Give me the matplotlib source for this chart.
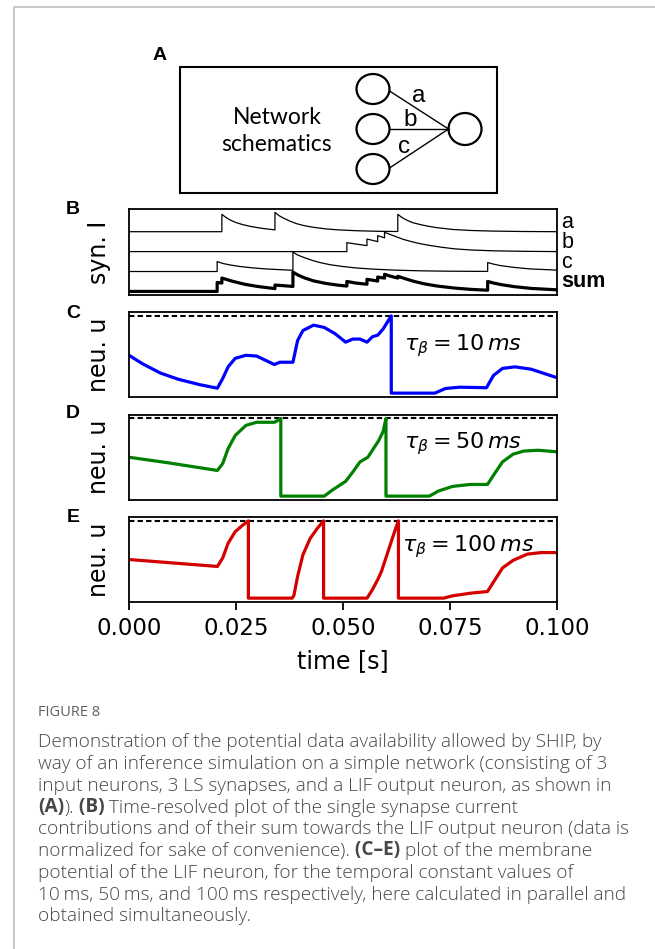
import matplotlib
matplotlib.use('Agg')
import matplotlib.pyplot as plt
from matplotlib.patches import Rectangle, Ellipse

# ---------------- data ----------------
# panel B: normalised synaptic currents (time in s)
a_t = [0, 0.0217, 0.0217, 0.0227, 0.0237, 0.0250, 0.0265, 0.0285, 0.0310, 0.0341,
       0.0341, 0.0351, 0.0362, 0.0376, 0.0392, 0.0410, 0.0431, 0.0460, 0.0490, 0.0530,
       0.0580, 0.0628, 0.0628, 0.0638, 0.0649, 0.0662, 0.0680, 0.0700, 0.0720, 0.0757,
       0.0800, 0.0850, 0.0920, 0.1000]
a_i = [0, 0, 0.87, 0.71, 0.58, 0.46, 0.36, 0.26, 0.17, 0.09,
       0.97, 0.80, 0.67, 0.53, 0.40, 0.30, 0.22, 0.14, 0.09, 0.05,
       0.02, 0.01, 0.87, 0.71, 0.58, 0.46, 0.36, 0.27, 0.20, 0.11,
       0.06, 0.03, 0.01, 0.0]

b_t = [0, 0.0509, 0.0509, 0.0530, 0.0556, 0.0556, 0.0570, 0.0581, 0.0581, 0.0590,
       0.0597, 0.0597, 0.0608, 0.0620, 0.0640, 0.0660, 0.0680, 0.0700, 0.0730, 0.0760,
       0.0800, 0.0850, 0.0920, 0.1000]
b_i = [0, 0, 0.45, 0.38, 0.30, 0.63, 0.56, 0.50, 0.80, 0.74,
       0.69, 0.97, 0.88, 0.78, 0.62, 0.50, 0.40, 0.32, 0.22, 0.14,
       0.08, 0.04, 0.015, 0.0]

c_t = [0, 0.0206, 0.0206, 0.0220, 0.0236, 0.0260, 0.0290, 0.0320, 0.0355, 0.0383,
       0.0383, 0.0394, 0.0408, 0.0420, 0.0431, 0.0446, 0.0470, 0.0500, 0.0530, 0.0570,
       0.0620, 0.0680, 0.0750, 0.0838, 0.0838, 0.0850, 0.0867, 0.0898, 0.0937, 0.1000]
c_i = [0, 0, 0.50, 0.40, 0.33, 0.25, 0.18, 0.13, 0.09, 0.06,
       0.97, 0.83, 0.71, 0.62, 0.54, 0.45, 0.34, 0.25, 0.18, 0.12,
       0.07, 0.035, 0.015, 0.005, 0.45, 0.38, 0.30, 0.21, 0.13, 0.07]

sum_t = [0, 0.0206, 0.0206, 0.0217, 0.0217, 0.0228, 0.0240, 0.0255, 0.0270, 0.0300,
         0.0341, 0.0341, 0.0360, 0.0383, 0.0383, 0.0395, 0.0410, 0.0431, 0.0460, 0.0490,
         0.0509, 0.0509, 0.0530, 0.0556, 0.0556, 0.0570, 0.0581, 0.0581, 0.0590, 0.0597,
         0.0597, 0.0610, 0.0628, 0.0628, 0.0645, 0.0665, 0.0690, 0.0720, 0.0760, 0.0800,
         0.0838, 0.0838, 0.0850, 0.0870, 0.0900, 0.0940, 0.1000]
sum_i = [0, 0, 0.45, 0.42, 0.67, 0.60, 0.52, 0.44, 0.36, 0.25,
         0.14, 0.32, 0.29, 0.25, 0.97, 0.82, 0.68, 0.53, 0.40, 0.31,
         0.27, 0.50, 0.42, 0.36, 0.61, 0.56, 0.52, 0.72, 0.69, 0.67,
         0.86, 0.77, 0.67, 0.76, 0.64, 0.51, 0.38, 0.27, 0.17, 0.10,
         0.06, 0.50, 0.43, 0.34, 0.24, 0.15, 0.08]

row_names = ['a', 'b', 'c', 'sum']

# panels C-E: membrane potential, 0 = reset, 1 = threshold
u10_t = [0, 0.00316, 0.00733, 0.01149, 0.01649, 0.02065, 0.0219, 0.02315, 0.02481, 0.02731,
         0.02981, 0.03397, 0.03522, 0.0373, 0.0383, 0.03939, 0.04063, 0.04313, 0.04563, 0.04813,
         0.05062, 0.05229, 0.05396, 0.05562, 0.05687, 0.05812, 0.05937, 0.06128, 0.06128, 0.07144,
         0.07394, 0.07727, 0.08351, 0.08518, 0.08726, 0.09018, 0.09392, 0.1]
u10 = [0.49, 0.38, 0.26, 0.18, 0.11, 0.064, 0.19, 0.34, 0.45, 0.49,
       0.48, 0.37, 0.40, 0.40, 0.40, 0.68, 0.81, 0.88, 0.85, 0.77,
       0.66, 0.70, 0.70, 0.66, 0.73, 0.75, 0.83, 1.0, 0.0, 0.0,
       0.06, 0.077, 0.07, 0.23, 0.32, 0.34, 0.31, 0.20]

u50_t = [0, 0.00899, 0.02065, 0.0219, 0.02315, 0.02481, 0.02731, 0.02981, 0.03397, 0.03497,
         0.03547, 0.03547, 0.04563, 0.0473, 0.05062, 0.05229, 0.05396, 0.0558, 0.05687, 0.05829,
         0.05937, 0.06004, 0.06004, 0.07019, 0.07227, 0.0756, 0.07977, 0.08376, 0.08518, 0.08726,
         0.08976, 0.09226, 0.09559, 0.1]
u50 = [0.50, 0.43, 0.33, 0.42, 0.61, 0.78, 0.91, 0.95, 0.95, 0.98,
       1.0, 0.0, 0.0, 0.07, 0.19, 0.31, 0.44, 0.50, 0.59, 0.71,
       0.83, 1.0, 0.0, 0.0, 0.065, 0.125, 0.15, 0.15, 0.27, 0.44,
       0.54, 0.58, 0.59, 0.57]

u100_t = [0, 0.02065, 0.0219, 0.02315, 0.02481, 0.02648, 0.02789, 0.02789, 0.03814, 0.03855,
          0.03939, 0.04063, 0.0423, 0.04396, 0.04546, 0.04546, 0.05562, 0.05687, 0.05812, 0.05895,
          0.06062, 0.06228, 0.06295, 0.06295, 0.07352, 0.0756, 0.07977, 0.08376, 0.08518, 0.08726,
          0.08976, 0.09309, 0.09642, 0.1]
u100 = [0.50, 0.41, 0.52, 0.71, 0.86, 0.94, 1.0, 0.0, 0.0, 0.04,
        0.28, 0.56, 0.77, 0.90, 1.0, 0.0, 0.0, 0.11, 0.24, 0.34,
        0.62, 0.90, 1.0, 0.0, 0.0, 0.03, 0.064, 0.086, 0.21, 0.39,
        0.49, 0.57, 0.59, 0.59]

taus = [10, 50, 100]
threshold = 1.0
xticks = [0.000, 0.025, 0.050, 0.075, 0.100]

# ---------------- figure ----------------
W, H = 655, 949
fig = plt.figure(figsize=(W / 100, H / 100), dpi=100)

# overlay in pixel coordinates for frame, schematic and caption
ov = fig.add_axes([0, 0, 1, 1], zorder=-1)
ov.set_xlim(0, W)
ov.set_ylim(H, 0)
ov.axis('off')

ov.plot([14, 14, W], [H, 7, 7], color='#c4c4c4', lw=1.3)

# panel A: network schematic
ov.add_patch(Rectangle((180, 67), 317, 126, fill=False, ec='black', lw=1.5))
ov.text(277, 131, 'Network\nschematics', ha='center', va='center', fontsize=16.5,
        family='Lato', linespacing=1.3)
for cy in [89, 129, 169]:
    ov.add_patch(Ellipse((373, cy), 33, 30, fill=False, ec='black', lw=1.6))
ov.add_patch(Ellipse((465, 129), 33, 32, fill=False, ec='black', lw=1.6))
for y0 in [91, 129, 168]:
    ov.plot([389.5, 448.5], [y0, 129], color='black', lw=1.0)
for lab, (lx, ly) in zip(['a', 'b', 'c'], [(419, 96), (410, 120), (404, 147)]):
    ov.text(lx, ly, lab, ha='center', va='center', fontsize=17.5, family='Liberation Sans')


def px_axes(top, bottom, left=129, right=557):
    return fig.add_axes([left / W, 1 - bottom / H, (right - left) / W, (bottom - top) / H])


def style(ax):
    for sp in ax.spines.values():
        sp.set_linewidth(1.3)
    ax.set_xlim(0, 0.1)
    ax.set_yticks([])


# panel B
axB = px_axes(209, 295)
style(axB)
axB.set_xticks([])
traces = [(a_t, a_i), (b_t, b_i), (c_t, c_i), (sum_t, sum_i)]
offsets = [3, 2, 1, 0]
for (tt, ii), off, name in zip(traces, offsets, row_names):
    bold = name == 'sum'
    axB.plot(tt, [v + off for v in ii], color='black', lw=2.3 if bold else 0.9)
    axB.text(1.01, off + 0.2, name, transform=axB.get_yaxis_transform(), ha='left',
             va='baseline', fontsize=15.5, family='Liberation Sans',
             weight='bold' if bold else 'normal')
axB.set_ylim(-0.18, 4.14)
axB.set_ylabel('syn. I', fontsize=17)
axB.yaxis.set_label_coords(-0.042, 0.5)

# panels C-E
panels = [((312, 397), u10_t, u10, 'b', 0.0642, 0.62),
          ((414.5, 500), u50_t, u50, 'g', 0.0642, 0.68),
          ((517, 602), u100_t, u100, '#d40000', 0.0638, 0.665)]
axes = []
for (top, bot), tt, uu, col, tx, ty in panels:
    ax = px_axes(top, bot)
    style(ax)
    ax.axhline(threshold, color='black', lw=1.5, ls=(0, (2.6, 1.5)))
    ax.plot(tt, uu, color=col, lw=2.3)
    ax.set_ylim(-0.05, 1.05)
    ax.set_ylabel('neu. u', fontsize=17)
    ax.yaxis.set_label_coords(-0.042, 0.5)
    axes.append(ax)
for ax, tau, (_, _, _, _, tx, ty) in zip(axes, taus, panels):
    ax.text(tx, ty, r'$\tau_{\beta} = %d\,ms$' % tau, fontsize=16, ha='left', va='center')

for ax in axes[:2]:
    ax.set_xticks([])
axE = axes[2]
axE.set_xticks(xticks)
axE.set_xticklabels(['%.3f' % v for v in xticks])
axE.tick_params(axis='x', length=6, width=1.3, labelsize=16.5, pad=5)
axE.set_xlabel('time [s]', fontsize=17, labelpad=6)

# panel letters
for lab, (lx, ly) in zip('ABCDE', [(160, 56), (73, 209), (73, 313), (73, 414), (73, 518)]):
    fig.text(lx / W, 1 - ly / H, lab, ha='center', va='center', fontsize=14,
             weight='bold', family='Liberation Sans')

# caption
cap_col = '#474747'
cap_font = ['Open Sans', 'DejaVu Sans']
ov.text(38, 712, 'FIGURE 8', ha='left', va='center', fontsize=10.5, family=cap_font,
        color='#606060')
cap_lines = [
    [('Demonstration of the potential data availability allowed by SHIP, by', False)],
    [('way of an inference simulation on a simple network (consisting of 3', False)],
    [('input neurons, 3 LS synapses, and a LIF output neuron, as shown in', False)],
    [('(A)', True), (').', False), (' (B)', True),
     (' Time-resolved plot of the single synapse current', False)],
    [('contributions and of their sum towards the LIF output neuron (data is', False)],
    [('normalized for sake of convenience).', False), (' (C\u2013E)', True),
     (' plot of the membrane', False)],
    [('potential of the LIF neuron, for the temporal constant values of', False)],
    [('10\u2009ms, 50\u2009ms, and 100\u2009ms respectively, here calculated in parallel and', False)],
    [('obtained simultaneously.', False)],
]
y = 747
for parts in cap_lines:
    prev = None
    for s, bold in parts:
        kw = dict(fontsize=13.7, family=cap_font, color=cap_col,
                  weight='bold' if bold else 'light', ha='left')
        if prev is None:
            prev = ov.text(38, y, s, va='baseline', **kw)
        else:
            prev = ov.annotate(s, xy=(1, 0), xycoords=prev, va='bottom', **kw)
    y += 21.8

fig.savefig('out.png', dpi=100)
